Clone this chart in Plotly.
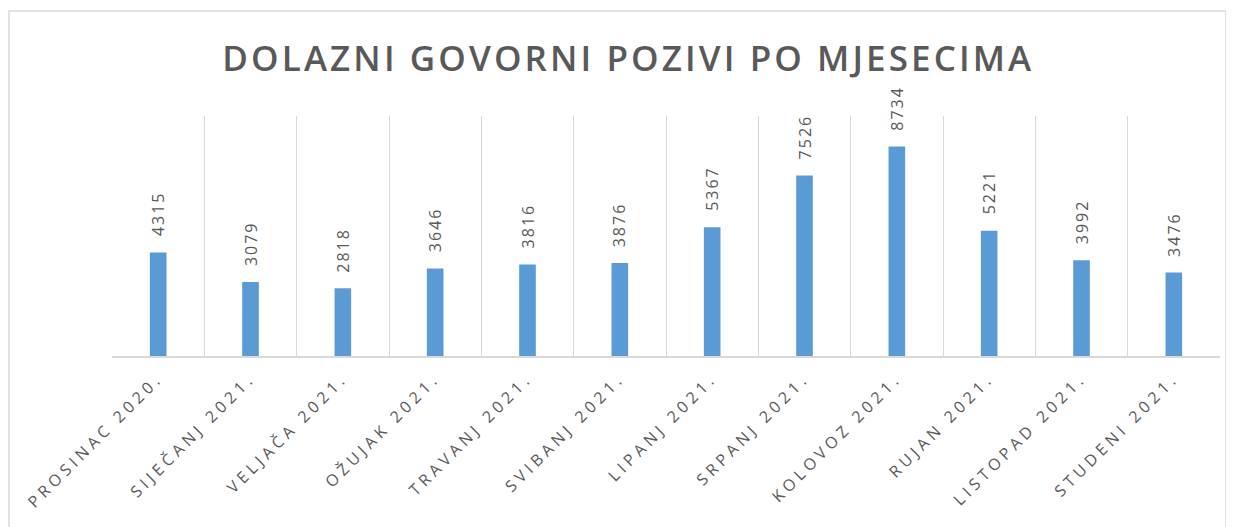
import plotly.graph_objects as go

months = ["PROSINAC 2020.", "SIJEČANJ 2021.", "VELJAČA 2021.", "OŽUJAK 2021.",
          "TRAVANJ 2021.", "SVIBANJ 2021.", "LIPANJ 2021.", "SRPANJ 2021.",
          "KOLOVOZ 2021.", "RUJAN 2021.", "LISTOPAD 2021.", "STUDENI 2021."]
calls = [4315, 3079, 2818, 3646, 3816, 3876, 5367, 7526, 8734, 5221, 3992, 3476]
title_text = "DOLAZNI GOVORNI POZIVI PO MJESECIMA"

GREY = "#595959"
FONT = "Open Sans"

fig = go.Figure()
fig.add_trace(go.Bar(
    x=months, y=calls, width=0.18,
    marker=dict(color="#5B9BD5", line=dict(width=0)),
    hoverinfo="x+y",
))

annotations = [
    dict(x=m, y=v, xref="x", yref="y", text=str(v), textangle=-90,
         showarrow=False, xanchor="center", yanchor="bottom", yshift=18,
         font=dict(family=FONT, size=16, color=GREY))
    for m, v in zip(months, calls)
]

fig.update_layout(
    width=1226, height=519,
    margin=dict(l=104, r=14, t=108, b=171),
    paper_bgcolor="white", plot_bgcolor="white",
    showlegend=False,
    title=dict(text=title_text, x=0.506, xref="container", xanchor="center",
               y=1 - 51 / 519, yanchor="middle",
               font=dict(family=FONT, size=35, weight=600, color=GREY)),
    xaxis=dict(type="category", tickson="boundaries", showgrid=True,
               gridcolor="#D9D9D9", gridwidth=1, showline=True,
               linecolor="#D9D9D9", linewidth=1.5, ticks="", tickangle=-45,
               ticklabelstandoff=5,
               tickfont=dict(family=FONT, size=16, color=GREY)),
    yaxis=dict(range=[0, 10000], showgrid=False, showticklabels=False,
               zeroline=False, showline=False),
    annotations=annotations,
    shapes=[dict(type="rect", xref="paper", yref="paper",
                 x0=-0.093, x1=1.0054, y0=-0.8, y1=1.4375,
                 line=dict(color="#D9D9D9", width=1.5), layer="below")],
)

post_js = """
var gd = document.getElementById('{plot_id}');
function spacing() {
  gd.querySelectorAll('.gtitle').forEach(function(t){ t.style.letterSpacing = '3.1px'; });
  gd.querySelectorAll('.xtick text').forEach(function(t){ t.style.letterSpacing = '4.3px'; });
  gd.querySelectorAll('.annotation-text').forEach(function(t){ t.style.letterSpacing = '2px'; });
}
spacing();
gd.on('plotly_afterplot', spacing);
setTimeout(spacing, 50);
"""

fig.write_html("out.html", post_script=post_js)
